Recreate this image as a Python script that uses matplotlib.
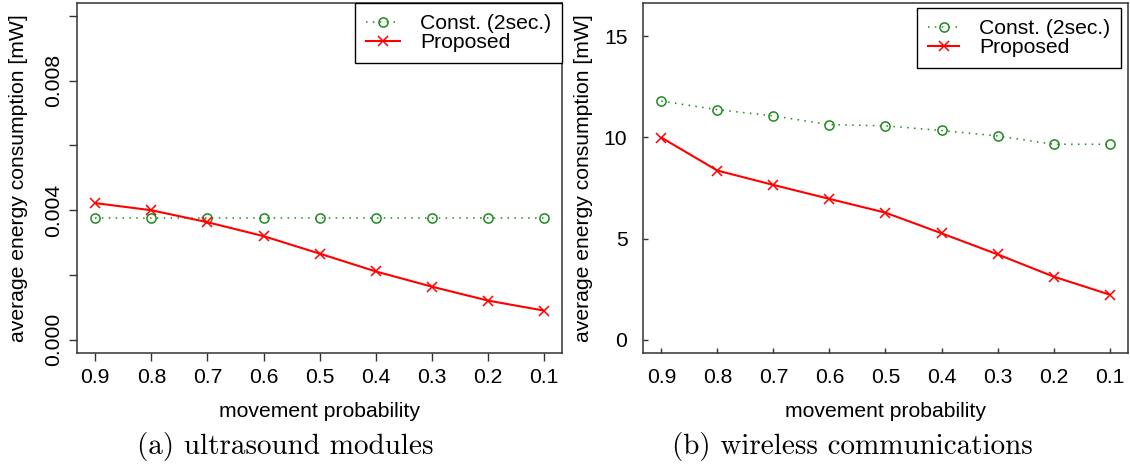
import matplotlib
matplotlib.use("Agg")
import matplotlib.pyplot as plt
import numpy as np

plt.rcParams['font.family'] = ['Liberation Sans', 'DejaVu Sans']

# movement probability (x axis, shown reversed)
prob = [0.9, 0.8, 0.7, 0.6, 0.5, 0.4, 0.3, 0.2, 0.1]

# (a) ultrasound modules [mW]
us_const = [0.00375, 0.00375, 0.00375, 0.00375, 0.00375, 0.00375, 0.00375, 0.00375, 0.00375]
us_prop = [0.00422, 0.00400, 0.00363, 0.00320, 0.00266, 0.00211, 0.00164, 0.00121, 0.00090]

# (b) wireless communications [mW]
wl_const = [11.79, 11.37, 11.06, 10.63, 10.57, 10.34, 10.07, 9.66, 9.66]
wl_prop = [9.99, 8.36, 7.65, 6.96, 6.28, 5.26, 4.22, 3.12, 2.23]

yticks_a = [0.0, 0.002, 0.004, 0.006, 0.008, 0.010]
ylabels_a = ['0.000', '', '0.004', '', '0.008', '']
yticks_b = [0, 5, 10, 15]
xticks = prob
xlabels = ['0.9', '0.8', '0.7', '0.6', '0.5', '0.4', '0.3', '0.2', '0.1']

FS = 15.2
green = '#1f8a1f'
red = '#ff0000'
W, H = 1130, 465

fig = plt.figure(figsize=(11.3, 4.65), dpi=100)
ax1 = fig.add_axes([77.3 / W, 1 - 352.7 / H, (562 - 77.3) / W, 349.7 / H])
ax2 = fig.add_axes([643.4 / W, 1 - 352.7 / H, (1127.6 - 643.4) / W, 349.7 / H])


def draw(ax, const, prop):
    ax.plot(prob, const, color=green, lw=1.1, ls=(0, (1, 3.5)),
            marker='o', ms=6.6, mfc='none', mec=green, mew=1.1,
            label='Const. (2sec.)')
    ax.plot(prob, prop, color=red, lw=1.5, marker='x', ms=7, mew=1.1,
            label='Proposed')
    ax.set_xlim(0.932, 0.068)
    ax.set_xticks(xticks)
    ax.set_xticklabels(xlabels, fontsize=FS)
    for s in ax.spines.values():
        s.set_color('#333333')
        s.set_linewidth(1.1)


def legend(ax, anchor, hl):
    leg = ax.legend(loc='upper right', bbox_to_anchor=anchor, borderaxespad=0,
                    fontsize=FS, handlelength=hl, handletextpad=0.92,
                    borderpad=0.52, labelspacing=0.0,
                    numpoints=1, fancybox=False, framealpha=1, edgecolor='black')
    leg.get_frame().set_linewidth(1.0)


draw(ax1, us_const, us_prop)
ax1.set_ylim(-0.0004, 0.0104)
ax1.set_yticks(yticks_a)
ax1.set_yticklabels(ylabels_a, rotation=90, va='center', fontsize=FS)
ax1.tick_params(direction='out', length=6, width=1.0, color='#333333', pad=4.5)
ax1.tick_params(axis='x', pad=5.0)
legend(ax1, (1.0, 1.0), 1.62)

draw(ax2, wl_const, wl_prop)
ax2.set_ylim(-0.64, 16.64)
ax2.set_yticks(yticks_b)
ax2.set_yticklabels([str(v) for v in yticks_b], fontsize=FS)
ax2.tick_params(direction='in', length=3.6, width=1.0, color='#333333', pad=11.5)
ax2.tick_params(axis='x', pad=11.2)
legend(ax2, ((1121 - 643.4) / 484.2, (352.7 - 8.3) / 349.7), 1.5)

ylab = 'average energy consumption [mW]'
fig.text(18.6 / W, 1 - 177.8 / H, ylab, rotation=90, ha='center', va='center', fontsize=FS)
fig.text(583.7 / W, 1 - 177.8 / H, ylab, rotation=90, ha='center', va='center', fontsize=FS)
fig.text(319.6 / W, 1 - 411.5 / H, 'movement probability', ha='center', va='center', fontsize=FS)
fig.text(885.5 / W, 1 - 411.5 / H, 'movement probability', ha='center', va='center', fontsize=FS)

fig.text(285.7 / W, 1 - 446.7 / H, '(a) ultrasound modules', ha='center', va='center',
         fontsize=21, family='cmr10')
fig.text(852 / W, 1 - 446.7 / H, '(b) wireless communications', ha='center', va='center',
         fontsize=21, family='cmr10')

fig.savefig('out.png', dpi=100)
